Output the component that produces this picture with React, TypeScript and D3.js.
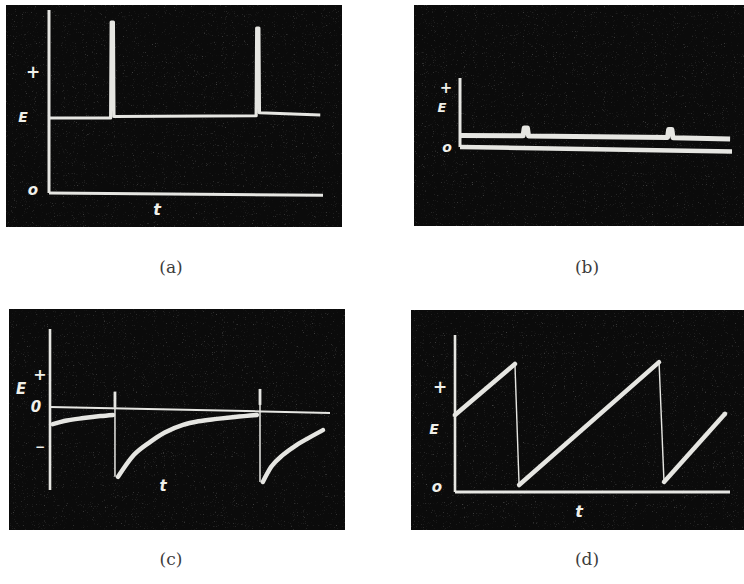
import React from "react";
import * as d3 from "d3";

// ---------- data ----------
// Panel (a): constant E with narrow positive spikes
const aT = [0, 22.5, 22.7, 23.5, 23.7, 75.6, 75.8, 76.6, 76.8, 99];
const aE = [1.0, 1.0, 2.28, 2.28, 1.02, 1.03, 2.2, 2.2, 1.07, 1.04];

// Panel (b): trace close to zero with small bumps, plus zero line
const bUpperT = [0, 23.2, 23.6, 24.8, 25.2, 76.3, 76.7, 77.9, 78.3, 99.3];
const bUpperE = [1.15, 1.12, 1.9, 1.9, 1.1, 0.95, 1.75, 1.75, 0.92, 0.8];
const bZeroT = [0, 100];
const bZeroE = [0, -0.45];

// Panel (c): negative exponential recovery after each spike
const cSeg1T = [1, 6, 12, 18, 22.5];
const cSeg1E = [-0.43, -0.34, -0.28, -0.23, -0.2];
const cSeg2T = [24.3, 30, 35.7, 41, 47.5, 53, 59.6, 66, 73.9];
const cSeg2E = [-1.75, -1.2, -0.88, -0.64, -0.45, -0.36, -0.3, -0.25, -0.2];
const cSeg3T = [76, 79, 83.2, 87.5, 91.8, 97.5];
const cSeg3E = [-1.88, -1.5, -1.2, -0.98, -0.8, -0.58];
const cSpikeT = [23.2, 75];
const cSpikeTop = [0.38, 0.45];
const cSpikeBottom = [-1.75, -1.88];
const cZeroT = [0, 100];
const cZeroE = [0, -0.15];

// Panel (d): sawtooth
const dT = [0, 21.8, 23.3, 74.2, 76, 98.2];
const dE = [1.22, 2.03, 0.11, 2.06, 0.16, 1.24];
const dRampIdx = [[0, 1], [2, 3], [4, 5]];
const dDropIdx = [[1, 2], [3, 4]];

const captions = ["(a)", "(b)", "(c)", "(d)"];

const TRACE = "#e6e6e2";
const BG = "#0b0b0b";
const W = 744;
const H = 584;

type Pt = [number, number];
const zip = (t: number[], e: number[]): Pt[] => t.map((v, i) => [v, e[i]]);

function Label({ x, y, text, size = 14 }: { x: number; y: number; text: string; size?: number }) {
  return (
    <text x={x} y={y} fill="#f0f0ea" fontFamily="DejaVu Sans" fontStyle="italic" fontWeight="bold"
      fontSize={size} textAnchor="middle" dominantBaseline="central">{text}</text>
  );
}

export default function App() {
  // Panel (a)
  const ax = d3.scaleLinear().domain([0, 100]).range([49, 323]);
  const ay = d3.scaleLinear().domain([0, 2.44]).range([193, 10]);
  const aLine = d3.line<Pt>().x(d => ax(d[0])).y(d => ay(d[1]));

  // Panel (b)
  const bx = d3.scaleLinear().domain([0, 100]).range([460, 732]);
  const by = d3.scaleLinear().domain([0, 6.9]).range([147, 78]);
  const bLine = d3.line<Pt>().x(d => bx(d[0])).y(d => by(d[1]));

  // Panel (c)
  const cx = d3.scaleLinear().domain([0, 100]).range([50, 330]);
  const cy = d3.scaleLinear().domain([-2.08, 1.95]).range([490, 329]);
  const cLine = d3.line<Pt>().x(d => cx(d[0])).y(d => cy(d[1])).curve(d3.curveMonotoneX);
  const cLin = d3.line<Pt>().x(d => cx(d[0])).y(d => cy(d[1]));

  // Panel (d)
  const dx = d3.scaleLinear().domain([0, 100]).range([455, 730]);
  const dy = d3.scaleLinear().domain([0, 2.49]).range([492, 335]);
  const dLine = d3.line<Pt>().x(d => dx(d[0])).y(d => dy(d[1]));
  const dPts = zip(dT, dE);

  const glow = "url(#glow)";

  return (
    <svg width={W} height={H} style={{ position: "absolute", left: 0, top: 0, background: "#fff" }}>
      <defs>
        <filter id="glow" x="-10%" y="-10%" width="120%" height="120%">
          <feGaussianBlur stdDeviation="0.6" />
        </filter>
        <filter id="grain" x="0" y="0" width="100%" height="100%">
          <feTurbulence type="fractalNoise" baseFrequency="0.9" numOctaves="2" seed="3" result="n" />
          <feColorMatrix type="matrix" values="0 0 0 0 0.25  0 0 0 0 0.25  0 0 0 0 0.25  0 0 0 2.2 -1.45" />
        </filter>
      </defs>

      {/* photo backgrounds */}
      {[[6, 5, 336, 222], [414, 5, 330, 221], [9, 309, 336, 221], [411, 310, 333, 220]].map(([x, y, w, h], i) => (
        <g key={i}>
          <rect x={x} y={y} width={w} height={h} fill={BG} />
          <rect x={x} y={y} width={w} height={h} filter="url(#grain)" opacity={0.8} />
        </g>
      ))}

      {/* ---------- (a) ---------- */}
      <g filter={glow}>
        <line x1={ax(0)} x2={ax(0)} y1={ay(2.44)} y2={ay(0)} stroke={TRACE} strokeWidth={3} />
        <line x1={ax(0)} x2={ax(100)} y1={ay(0)} y2={ay(-0.03)} stroke={TRACE} strokeWidth={3} />
        <path d={aLine(zip(aT, aE)) || ""} fill="none" stroke={TRACE} strokeWidth={3.2} strokeLinejoin="round" />
      </g>
      <Label x={33} y={72} text="+" size={17} />
      <Label x={23} y={117} text="E" size={14} />
      <Label x={33} y={190} text="o" size={15} />
      <Label x={157} y={209} text="t" size={16} />

      {/* ---------- (b) ---------- */}
      <g filter={glow}>
        <line x1={bx(0)} x2={bx(0)} y1={by(6.9)} y2={by(0)} stroke={TRACE} strokeWidth={3} />
        <path d={bLine(zip(bZeroT, bZeroE)) || ""} fill="none" stroke={TRACE} strokeWidth={4.5} />
        <path d={bLine(zip(bUpperT, bUpperE)) || ""} fill="none" stroke={TRACE} strokeWidth={5} strokeLinejoin="round" />
      </g>
      <Label x={446} y={88} text="+" size={15} />
      <Label x={442} y={107} text="E" size={13} />
      <Label x={447} y={147} text="o" size={14} />

      {/* ---------- (c) ---------- */}
      <g filter={glow}>
        <line x1={cx(0)} x2={cx(0)} y1={cy(1.95)} y2={cy(-2.08)} stroke={TRACE} strokeWidth={2.6} />
        <path d={cLin(zip(cZeroT, cZeroE)) || ""} fill="none" stroke={TRACE} strokeWidth={2} />
        {cSpikeT.map((t, i) => (
          <g key={i}>
            <line x1={cx(t)} x2={cx(t)} y1={cy(cSpikeTop[i])} y2={cy(cSpikeBottom[i])} stroke={TRACE} strokeWidth={1.5} />
            <line x1={cx(t)} x2={cx(t)} y1={cy(cSpikeTop[i])} y2={cy(cSpikeTop[i] - 0.4)} stroke={TRACE} strokeWidth={2.8} />
          </g>
        ))}
        <path d={cLine(zip(cSeg1T, cSeg1E)) || ""} fill="none" stroke={TRACE} strokeWidth={4.5} strokeLinecap="round" />
        <path d={cLine(zip(cSeg2T, cSeg2E)) || ""} fill="none" stroke={TRACE} strokeWidth={4.5} strokeLinecap="round" />
        <path d={cLine(zip(cSeg3T, cSeg3E)) || ""} fill="none" stroke={TRACE} strokeWidth={4.5} strokeLinecap="round" />
      </g>
      <Label x={21} y={389} text="E" size={15} />
      <Label x={40} y={374} text="+" size={16} />
      <Label x={36} y={407} text="0" size={15} />
      <Label x={40} y={447} text="−" size={12} />
      <Label x={163} y={486} text="t" size={15} />

      {/* ---------- (d) ---------- */}
      <g filter={glow}>
        <line x1={dx(0)} x2={dx(0)} y1={dy(2.49)} y2={dy(0)} stroke={TRACE} strokeWidth={2.6} />
        <line x1={dx(0)} x2={dx(100)} y1={dy(0)} y2={dy(0)} stroke={TRACE} strokeWidth={2.8} />
        {dDropIdx.map(([i, j], k) => (
          <path key={"d" + k} d={dLine([dPts[i], dPts[j]]) || ""} fill="none" stroke={TRACE} strokeWidth={1.4} />
        ))}
        {dRampIdx.map(([i, j], k) => (
          <path key={"r" + k} d={dLine([dPts[i], dPts[j]]) || ""} fill="none" stroke={TRACE} strokeWidth={4.5} strokeLinecap="round" />
        ))}
      </g>
      <Label x={440} y={387} text="+" size={17} />
      <Label x={434} y={429} text="E" size={14} />
      <Label x={437} y={487} text="o" size={15} />
      <Label x={579} y={511} text="t" size={16} />

      {/* captions */}
      {captions.map((c, i) => (
        <text key={c} x={i % 2 === 0 ? 171 : 587} y={i < 2 ? 267 : 559} fill="#3c3c3c"
          fontFamily="DejaVu Serif" fontSize={17} textAnchor="middle" dominantBaseline="central">{c}</text>
      ))}
    </svg>
  );
}
